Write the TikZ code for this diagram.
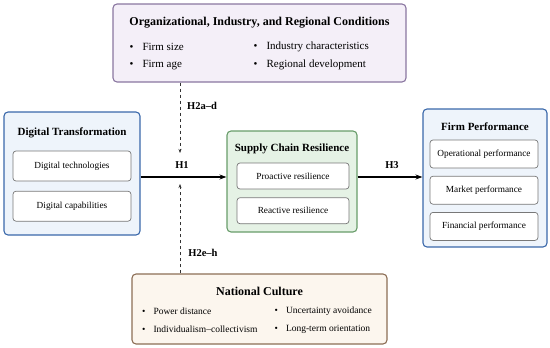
\documentclass[tikz,border=0pt]{standalone}
\usepackage{fontspec}
\setmainfont{Liberation Serif}
\usepackage{xcolor}
\usetikzlibrary{arrows.meta,positioning,calc}
\definecolor{condfill}{RGB}{244,239,248}
\definecolor{conddraw}{RGB}{138,118,160}
\definecolor{bluefill}{RGB}{238,244,251}
\definecolor{bluedraw}{RGB}{58,104,170}
\definecolor{greenfill}{RGB}{229,242,229}
\definecolor{greendraw}{RGB}{104,156,106}
\definecolor{culfill}{RGB}{252,246,238}
\definecolor{culdraw}{RGB}{140,110,85}
\definecolor{subdraw}{RGB}{120,120,120}
\tikzset{
    outer/.style={
        rectangle,
        rounded corners=4pt,
        line width=1.1pt
    },
    inner/.style={
        rectangle,
        draw=subdraw,
        fill=white,
        rounded corners=3pt,
        line width=0.7pt,
        font=\fontsize{9.3}{11}\selectfont
    },
    heading/.style={
        font=\fontsize{11}{13}\selectfont\bfseries,
        inner sep=0pt
    },
    item/.style={
        anchor=west,
        inner sep=0pt,
        font=\fontsize{9.5}{11}\selectfont
    },
    hyp/.style={
        font=\fontsize{10.5}{12}\selectfont\bfseries,
        inner sep=0pt
    },
    arrow/.style={
        -{Stealth[length=7pt,width=5pt]},
        line width=1.2pt,
        draw=black
    },
    moder/.style={
        -{Stealth[length=4pt,width=3pt]},
        dashed,
        line width=0.5pt,
        draw=black!80
    }
}
\begin{document}
\begin{tikzpicture}[x=1pt,y=-1pt]
    \useasboundingbox (0,0) rectangle (550,348);

    % Main blocks
    \node[outer, draw=conddraw, fill=condfill, minimum width=293pt, minimum height=78pt] (cond) at (259.5,43) {};
    \node[outer, draw=bluedraw, fill=bluefill, minimum width=136pt, minimum height=123pt] (dt) at (72,173.5) {};
    \node[outer, draw=greendraw, fill=greenfill, minimum width=130pt, minimum height=101pt] (scr) at (292,181.5) {};
    \node[outer, draw=bluedraw, fill=bluefill, minimum width=124pt, minimum height=138pt] (fp) at (485,178) {};
    \node[outer, draw=culdraw, fill=culfill, minimum width=255pt, minimum height=70pt] (nc) at (259.5,309) {};

    % Headings
    \node[heading, font=\fontsize{12}{14}\selectfont\bfseries] (condtitle) at (259.5,23) {Organizational, Industry, and Regional Conditions};
    \node[heading] (dttitle) at (72,133) {Digital Transformation};
    \node[heading] (scrtitle) at (292,149) {Supply Chain Resilience};
    \node[heading] (fptitle) at (485,127) {Firm Performance};
    \node[heading, font=\fontsize{12}{14}\selectfont\bfseries] (nctitle) at (259.5,291) {National Culture};

    % Sub-boxes
    \node[inner, minimum width=118pt, minimum height=30pt] (tech) at (72,166) {Digital technologies};
    \node[inner, minimum width=118pt, minimum height=30pt, below=9.5pt of tech] (capab) {Digital capabilities};
    \node[inner, minimum width=112pt, minimum height=26pt] (proact) at (293,176) {Proactive resilience};
    \node[inner, minimum width=112pt, minimum height=26pt, below=8pt of proact] (react) {Reactive resilience};
    \node[inner, minimum width=108pt, minimum height=28pt] (oper) at (484,154) {Operational performance};
    \node[inner, minimum width=108pt, minimum height=28pt, below=7.5pt of oper] (market) {Market performance};
    \node[inner, minimum width=108pt, minimum height=28pt, below=7.5pt of market] (finan) {Financial performance};

    % Bullet lists
    \node[item, font=\fontsize{11}{13}\selectfont] (size) at (129.5,47) {\textbullet\hspace{9pt}Firm size};
    \node[item, font=\fontsize{11}{13}\selectfont] (age) at (129.5,65) {\textbullet\hspace{9pt}Firm age};
    \node[item, font=\fontsize{11}{13}\selectfont] (indus) at (253.5,47) {\textbullet\hspace{9pt}Industry characteristics};
    \node[item, font=\fontsize{11}{13}\selectfont] (region) at (253.5,65) {\textbullet\hspace{9pt}Regional development};
    \node[item] (power) at (142,311) {\textbullet\hspace{8pt}Power distance};
    \node[item] (indiv) at (142,329) {\textbullet\hspace{8pt}Individualism--collectivism};
    \node[item] (uncert) at (274.5,311) {\textbullet\hspace{8pt}Uncertainty avoidance};
    \node[item] (longt) at (274.5,329) {\textbullet\hspace{8pt}Long-term orientation};

    % Paths
    \coordinate (junct) at (180,177);
    \draw[arrow] (dt.east |- junct) -- (scr.west |- junct);
    \draw[arrow] (scr.east |- junct) -- (fp.west |- junct);
    \draw[moder] (cond.south -| junct) -- ($(junct)+(0,-24)$);
    \draw[moder] (nc.north -| junct) -- ($(junct)+(0,7)$);

    % Hypothesis labels
    \node[hyp] (hone) at (182,165) {H1};
    \node[hyp] (htwoa) at (202,106) {H2a--d};
    \node[hyp] (htwoe) at (203,253) {H2e--h};
    \node[hyp] (hthree) at (392,165) {H3};
\end{tikzpicture}
\end{document}
